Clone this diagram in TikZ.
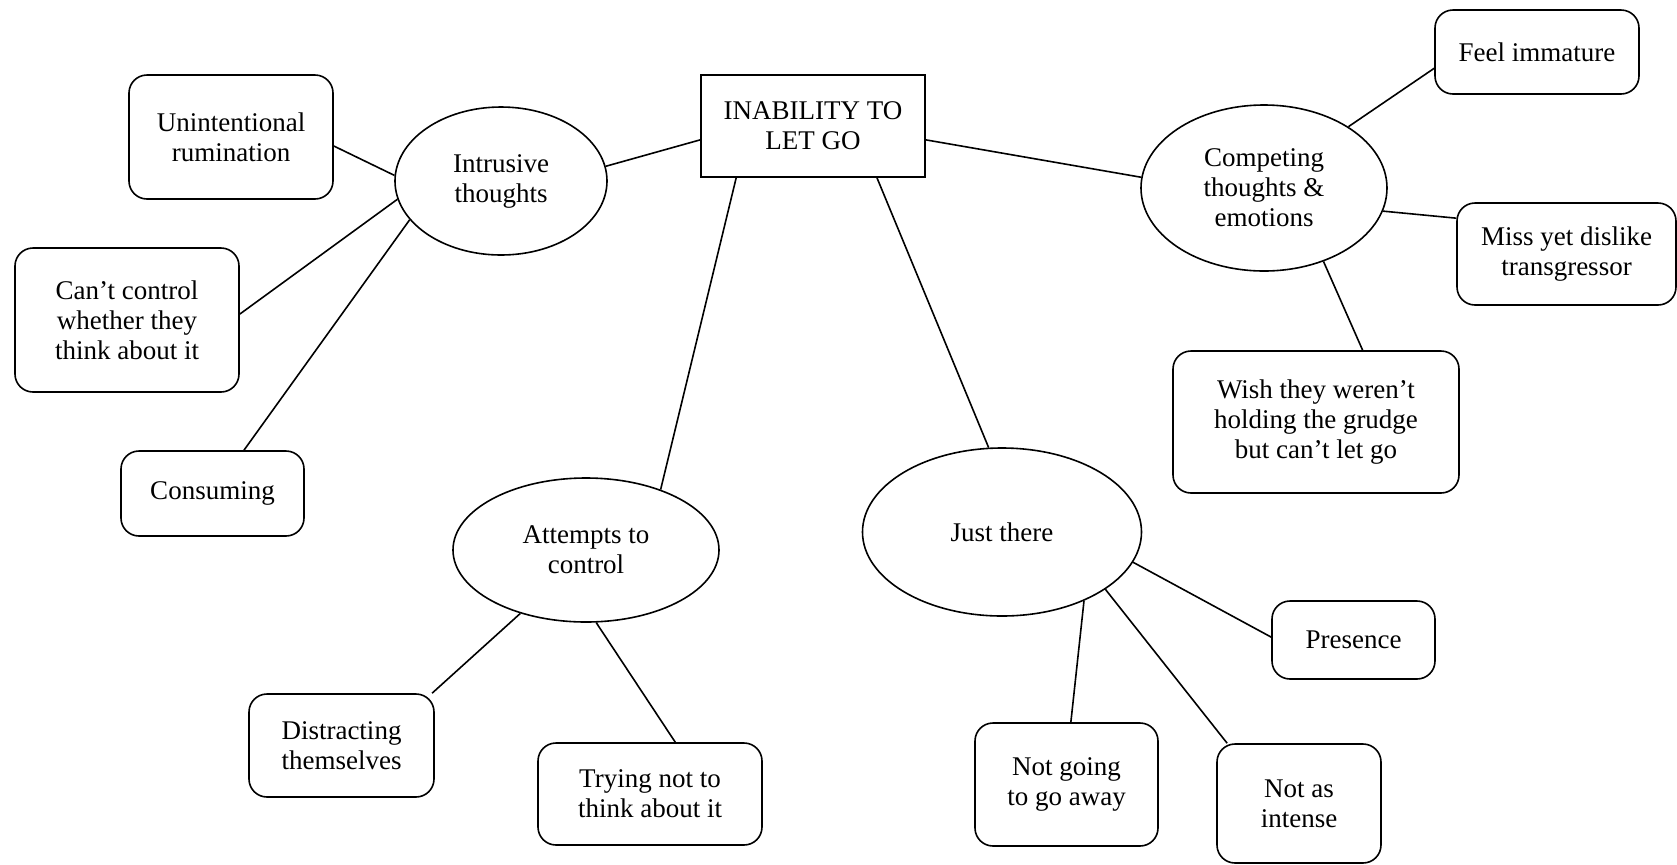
\documentclass[tikz,border=0pt]{standalone}
\usepackage{fontspec}
\setmainfont{Liberation Serif}
\usetikzlibrary{shapes.geometric}
\newcommand\pxu{0.5pt}
\tikzset{
  mapnode/.style={draw, line width=0.8pt, align=center, inner sep=0pt,
    font=\fontsize{13.5}{15}\selectfont},
  rbox/.style 2 args={mapnode, rectangle, rounded corners=9pt,
    minimum width=#1*\pxu, minimum height=#2*\pxu},
  sbox/.style 2 args={mapnode, rectangle,
    minimum width=#1*\pxu, minimum height=#2*\pxu},
  oval/.style 2 args={mapnode, ellipse,
    minimum width=#1*\pxu, minimum height=#2*\pxu},
  link/.style={draw, line width=0.8pt}
}
\begin{document}
\begin{tikzpicture}[x=0.5pt, y=-0.5pt]
  \fill[white] (0,0) rectangle (1677,864);
  \useasboundingbox (0,0) rectangle (1677,864);

  % central theme
  \node[sbox={224}{102}] (root) at (813,126) {INABILITY TO\\LET GO};

  % intrusive thoughts branch
  \node[oval={212}{148}] (intr) at (501,181) {Intrusive\\thoughts};
  \node[rbox={204}{124}] (unint) at (231,137) {Unintentional\\rumination};
  \node[rbox={224}{144}] (cant) at (127,320) {Can’t control\\whether they\\think about it};
  \node[rbox={183}{85}] (cons) at (212.5,493.5) {Consuming};

  % competing thoughts branch
  \node[oval={246}{166}] (comp) at (1264,188) {Competing\\thoughts \&\\emotions};
  \node[rbox={204}{84}] (feel) at (1537,52) {Feel immature};
  \node[rbox={219}{102}] (miss) at (1566.5,254) {Miss yet dislike\\transgressor};
  \node[rbox={286}{142}] (wish) at (1316,422) {Wish they weren’t\\holding the grudge\\but can’t let go};

  % attempts to control branch
  \node[oval={266}{144}] (att) at (586,550) {Attempts to\\control};
  \node[rbox={185}{103}] (dist) at (341.5,745.5) {Distracting\\themselves};
  \node[rbox={224}{102}] (try) at (650,794) {Trying not to\\think about it};

  % just there branch
  \node[oval={279}{168}] (just) at (1002,532) {Just there};
  \node[rbox={163}{78}] (pres) at (1353.5,640) {Presence};
  \node[rbox={183}{123}] (notgo) at (1066.5,784.5) {Not going\\to go away};
  \node[rbox={164}{119}] (notas) at (1299,803.5) {Not as\\intense};

  % connectors
  \draw[link] (root.187.6) -- (intr.8);
  \draw[link] (unint.-5) -- (intr.177);
  \draw[link] (cant.3.5) -- (intr.190.5);
  \draw[link] (cons.54.3) -- (intr.203.2);

  \draw[link] (root.-7.6) -- (comp.175);
  \draw[link] (comp.36) -- (feel.189);
  \draw[link] (comp.-11.5) -- (miss.162.6);
  \draw[link] (comp.-51.4) -- (wish.57.9);

  \draw[link] (root.214.9) -- (att.39);
  \draw[link] (att.224.6) -- (dist.30.8);
  \draw[link] (att.-82.8) -- (try.64.8);

  \draw[link] (root.-39) -- (just.99);
  \draw[link] (just.-13) -- (pres.178.6);
  \draw[link] (just.-40.4) -- (notgo.86);
  \draw[link] (just.-29.2) -- (notas.140.1);
\end{tikzpicture}
\end{document}
